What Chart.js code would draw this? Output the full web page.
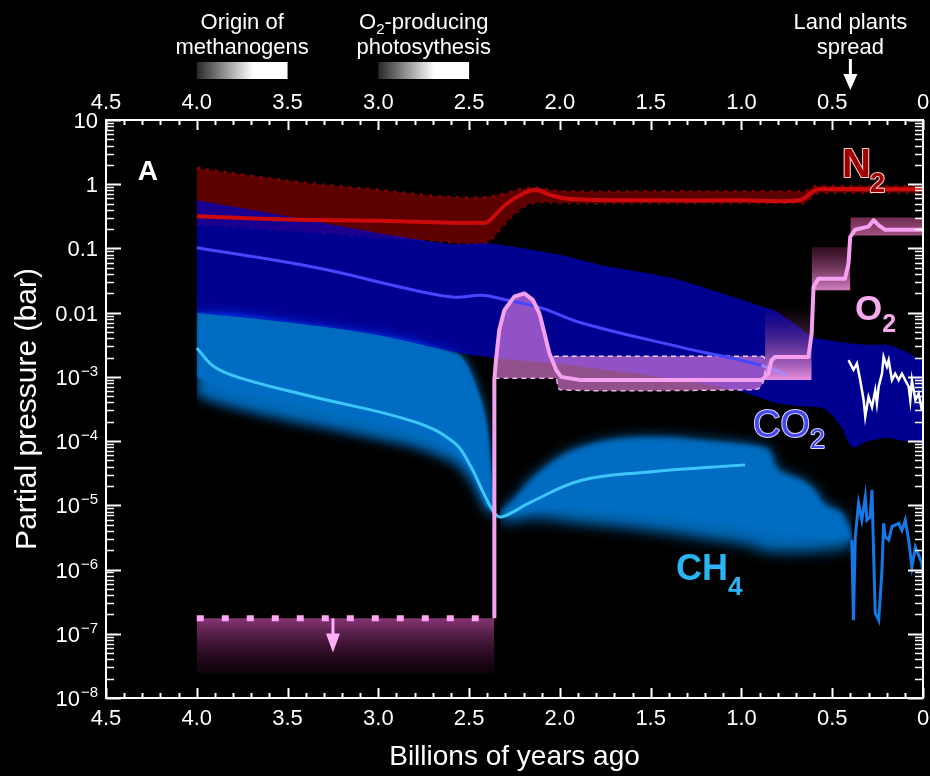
<!DOCTYPE html>
<html><head><meta charset="utf-8">
<script src="https://cdn.jsdelivr.net/npm/chart.js@4/dist/chart.umd.min.js"></script>
<style>html,body{margin:0;padding:0;background:#000;}canvas{display:block;}</style>
</head><body>
<canvas id="c" width="930" height="776"></canvas>
<script>
// ===== DATA (ages in billions of years ago; values are log10 of partial pressure in bar) =====
const xTickValues = [4.5, 4.0, 3.5, 3.0, 2.5, 2.0, 1.5, 1.0, 0.5, 0];
const yTickExponents = [1, 0, -1, -2, -3, -4, -5, -6, -7, -8];
const yTickBase = ["10", "1", "0.1", "0.01", "10", "10", "10", "10", "10", "10"];
const yTickSup  = ["", "", "", "", "\u22123", "\u22124", "\u22125", "\u22126", "\u22127", "\u22128"];

// N2
const n2BandAges  = [4.0, 3.7, 3.4, 3.0, 2.7, 2.5, 2.4, 2.3, 2.2, 2.12, 2.0, 1.5, 1.0, 0.7, 0.65, 0.6, 0.55, 0.5, 0.0];
const n2BandUpper = [0.25, 0.13, 0.02, -0.09, -0.18, -0.21, -0.2, -0.14, -0.07, -0.06, -0.11, -0.11, -0.11, -0.11, -0.11, -0.04, -0.03, -0.03, -0.03];
const n2BandLower = [-0.62, -0.68, -0.74, -0.82, -0.88, -0.92, -0.9, -0.6, -0.35, -0.28, -0.29, -0.29, -0.29, -0.29, -0.29, -0.16, -0.13, -0.13, -0.13];
const n2LineAges  = [4.0, 3.5, 3.0, 2.6, 2.45, 2.4, 2.3, 2.2, 2.13, 2.05, 1.95, 1.5, 1.0, 0.68, 0.62, 0.58, 0.5, 0.0];
const n2Line      = [-0.5, -0.55, -0.57, -0.6, -0.6, -0.59, -0.32, -0.14, -0.09, -0.17, -0.23, -0.25, -0.25, -0.25, -0.14, -0.08, -0.08, -0.08];

// CO2
const co2BandAges  = [4.0, 3.5, 3.0, 2.6, 2.4, 2.2, 2.0, 1.77, 1.4, 1.04, 0.87, 0.82, 0.7, 0.61, 0.54, 0.45, 0.39, 0.3, 0.2, 0.1, 0.0];
const co2BandUpper = [-0.25, -0.5, -0.76, -0.93, -0.92, -1.0, -1.1, -1.26, -1.45, -1.76, -1.92, -1.96, -2.19, -2.38, -2.42, -2.46, -2.48, -2.5, -2.5, -2.6, -2.75];
const co2BandLower = [-2.0, -2.15, -2.35, -2.6, -2.69, -2.75, -2.8, -2.88, -3.02, -3.2, -3.35, -3.4, -3.45, -3.47, -3.5, -3.78, -4.09, -4.0, -3.95, -4.0, -4.05];
const co2LineAges  = [4.0, 3.36, 2.8, 2.58, 2.43, 2.3, 2.1, 1.88, 1.33, 0.89, 0.75];
const co2Line      = [-0.99, -1.29, -1.65, -1.76, -1.73, -1.8, -1.93, -2.16, -2.54, -2.82, -2.97];
const co2ProxyAges = [0.410, 0.383, 0.364, 0.346, 0.327, 0.318, 0.300, 0.281, 0.263, 0.254, 0.244, 0.226, 0.217, 0.199, 0.189, 0.171, 0.153, 0.134, 0.116, 0.098, 0.079, 0.070, 0.061, 0.042, 0.024, 0.006];
const co2Proxy     = [-2.74, -2.89, -2.79, -3.05, -3.36, -3.62, -3.31, -3.47, -3.21, -3.41, -3.15, -2.95, -2.69, -2.84, -2.74, -3.05, -2.95, -3.05, -2.95, -3.05, -3.15, -3.36, -3.05, -3.36, -3.26, -3.52];

// CH4 (upper edge, solid lower edge, faded lower edge)
const ch4PreAges   = [4.0, 3.8, 3.5, 3.2, 3.0, 2.8, 2.6, 2.54, 2.48, 2.41, 2.37, 2.35];
const ch4PreUpper  = [-1.99, -2.0, -2.12, -2.24, -2.32, -2.43, -2.61, -2.69, -3.0, -3.63, -4.72, -5.12];
const ch4PreCore   = [-3.0, -3.2, -3.4, -3.6, -3.72, -3.88, -4.15, -4.3, -4.55, -5.0, -5.1, -5.16];
const ch4PreFade   = [-3.3, -3.48, -3.68, -3.85, -3.97, -4.1, -4.32, -4.45, -4.68, -5.06, -5.15, -5.2];
const ch4PostAges  = [2.33, 2.25, 2.16, 2.05, 1.92, 1.7, 1.4, 1.2, 1.0, 0.88, 0.85, 0.8, 0.67, 0.6, 0.54, 0.45, 0.39];
const ch4PostUpper = [-5.12, -4.9, -4.61, -4.35, -4.14, -3.98, -3.95, -4.0, -4.05, -4.1, -4.13, -4.45, -4.61, -4.76, -5.0, -5.12, -5.5];
const ch4PostCore  = [-5.18, -5.15, -5.08, -5.05, -5.05, -5.08, -5.15, -5.22, -5.3, -5.38, -5.4, -5.42, -5.45, -5.47, -5.5, -5.52, -5.55];
const ch4PostFade  = [-5.25, -5.25, -5.2, -5.22, -5.27, -5.33, -5.43, -5.52, -5.6, -5.7, -5.72, -5.73, -5.73, -5.72, -5.7, -5.68, -5.65];
const ch4LineAges  = [4.0, 3.9, 3.72, 3.36, 2.8, 2.58, 2.49, 2.42, 2.36, 2.32, 2.16, 1.88, 1.51, 0.98];
const ch4Line      = [-2.55, -2.85, -3.05, -3.31, -3.70, -4.03, -4.40, -4.81, -5.12, -5.18, -4.95, -4.61, -4.48, -4.37];
const ch4ProxyAges = [0.392, 0.383, 0.373, 0.355, 0.337, 0.318, 0.309, 0.291, 0.281, 0.272, 0.263, 0.244, 0.226, 0.217, 0.208, 0.189, 0.171, 0.134, 0.116, 0.098, 0.079, 0.061, 0.042, 0.006, 0.0];
const ch4Proxy     = [-5.54, -6.79, -5.49, -4.97, -5.23, -4.87, -5.23, -5.18, -4.76, -5.75, -6.68, -6.79, -6.01, -5.28, -5.49, -5.54, -5.33, -5.28, -5.39, -5.23, -5.54, -5.96, -5.65, -5.90, -6.11];

// O2
const o2LineAges  = [2.361, 2.361, 2.352, 2.334, 2.306, 2.251, 2.196, 2.149, 2.113, 2.085, 2.058, 2.021, 1.993, 1.883, 0.889, 0.852, 0.834, 0.815, 0.631, 0.613, 0.603, 0.576, 0.429, 0.410, 0.401, 0.374, 0.300, 0.272, 0.244, 0.208, 0.0];
const o2Line      = [-6.76, -3.05, -2.74, -2.27, -1.96, -1.75, -1.70, -1.80, -2.01, -2.32, -2.63, -2.89, -3.0, -3.05, -3.05, -2.95, -2.74, -2.69, -2.69, -2.32, -1.60, -1.47, -1.47, -1.23, -0.82, -0.71, -0.66, -0.56, -0.64, -0.71, -0.71];
const o2BandAges  = [2.361, 2.352, 2.334, 2.306, 2.251, 2.196, 2.149, 2.113, 2.085, 2.058, 2.04, 2.02, 2.0, 0.93, 0.9, 0.88, 0.87];
const o2BandUpper = [-3.05, -2.74, -2.27, -1.96, -1.75, -1.70, -1.80, -2.01, -2.32, -2.63, -2.68, -2.68, -2.68, -2.68, -2.68, -2.68, -2.72];
const o2BandLower = [-3.02, -3.02, -3.02, -3.02, -3.02, -3.02, -3.02, -3.02, -3.02, -3.02, -3.02, -3.02, -3.2, -3.2, -3.17, -3.08, -2.9];
const o2PreAges   = [4.0, 2.361];
const o2PreLimit  = [-6.76, -6.76];
const o2PreFloor  = -7.61;
const o2ArrowAge  = 3.25;
const o2ArrowTip  = -7.29;
const o2BoxStart  = [0.87, 0.613, 0.40];
const o2BoxEnd    = [0.613, 0.40, 0.0];
const o2BoxTop    = [-1.9, -0.98, -0.52];
const o2BoxBottom = [-3.05, -1.65, -0.8];

// Top-of-chart events
const eventLabels   = [["Origin of", "methanogens"], ["O\u2082-producing", "photosythesis"], ["Land plants", "spread"]];
const eventBarStart = [4.0, 3.0];
const eventBarEnd   = [3.5, 2.5];
const landPlantsAge = 0.4;

// ===== CHART =====
const FONT = '"Liberation Sans", Arial, Helvetica, sans-serif';
Chart.defaults.font.family = FONT;
Chart.defaults.color = '#fff';

const E = e => Math.pow(10, e);
const pts = (ages, exps) => ages.map((a, i) => ({x: a, y: E(exps[i])}));

function vGrad(topExp, botExp, cTop, cBot) {
  return (c) => {
    const ch = c.chart, y = ch.scales && ch.scales.y;
    if (!ch.chartArea || !y) return cBot;
    const g = ch.ctx.createLinearGradient(0, y.getPixelForValue(E(topExp)), 0, y.getPixelForValue(E(botExp)));
    g.addColorStop(0, cTop); g.addColorStop(1, cBot);
    return g;
  };
}

const ds = [];
function add(o) {
  ds.push(Object.assign({pointRadius: 0, pointHoverRadius: 0, pointHitRadius: 0, borderWidth: 0,
    borderColor: 'rgba(0,0,0,0)', backgroundColor: 'rgba(0,0,0,0)', fill: false, tension: 0.35}, o));
  return ds.length - 1;
}

// --- bottom layer: CH4 ranges (soft glow down to faded edge, then solid part)
const iCh4PreFade = add({label: 'CH4 pre fade', data: pts(ch4PreAges, ch4PreFade)});
const iCh4PreCore = add({label: 'CH4 pre core', data: pts(ch4PreAges, ch4PreCore)});
add({label: 'CH4 pre glow', data: pts(ch4PreAges, ch4PreUpper), fill: {target: iCh4PreFade}, backgroundColor: 'rgba(0,118,205,0.9)', blur: 6});
add({label: 'CH4 range (pre-GOE)', data: pts(ch4PreAges, ch4PreUpper), fill: {target: iCh4PreCore}, backgroundColor: 'rgba(0,110,195,0.92)', blur: 1.2});
const iCh4PostFade = add({label: 'CH4 post fade', data: pts(ch4PostAges, ch4PostFade)});
const iCh4PostCore = add({label: 'CH4 post core', data: pts(ch4PostAges, ch4PostCore)});
add({label: 'CH4 post glow', data: pts(ch4PostAges, ch4PostUpper), fill: {target: iCh4PostFade}, backgroundColor: 'rgba(0,118,205,0.9)', blur: 7});
add({label: 'CH4 range (post-GOE)', data: pts(ch4PostAges, ch4PostUpper), fill: {target: iCh4PostCore}, backgroundColor: 'rgba(0,110,195,0.92)', blur: 2.5});

// --- N2 range
const iN2Low = add({label: 'N2 low', data: pts(n2BandAges, n2BandLower), borderWidth: 3, borderColor: 'rgb(130,0,0)', borderDash: [3, 6]});
add({label: 'N2 range', data: pts(n2BandAges, n2BandUpper), fill: {target: iN2Low}, backgroundColor: 'rgba(100,0,0,0.92)', borderWidth: 3, borderColor: 'rgb(130,0,0)', borderDash: [3, 6]});

// --- CO2 range
const iCo2Low = add({label: 'CO2 low', data: pts(co2BandAges, co2BandLower)});
add({label: 'CO2 range', data: pts(co2BandAges, co2BandUpper), fill: {target: iCo2Low}, backgroundColor: 'rgba(0,0,205,0.7)', tension: 0.25});

// --- O2 boxes
add({label: 'O2 pre-GOE', data: pts(o2PreAges, o2PreLimit), tension: 0, fill: {value: E(o2PreFloor)},
  backgroundColor: vGrad(o2PreLimit[0], o2PreFloor, 'rgba(140,55,120,0.95)', 'rgba(50,5,35,0.3)'),
  borderWidth: 6, borderColor: 'rgb(255,165,245)', borderDash: [7, 18], borderCapStyle: 'butt'});
const boxTopColors = ['rgba(120,40,95,0)', 'rgba(110,30,70,0.45)', 'rgba(150,60,110,0.75)'];
const boxBotColors = ['rgba(245,150,225,0.95)', 'rgba(235,140,215,0.9)', 'rgba(190,95,150,0.85)'];
o2BoxStart.forEach((s, i) => {
  add({label: 'O2 box ' + (i + 1), data: pts([s, o2BoxEnd[i]], [o2BoxTop[i], o2BoxTop[i]]), tension: 0,
    fill: {value: E(o2BoxBottom[i])}, backgroundColor: vGrad(o2BoxTop[i], o2BoxBottom[i], boxTopColors[i], boxBotColors[i])});
});

// --- O2 range (post-GOE)
const iO2Low = add({label: 'O2 low', data: pts(o2BandAges, o2BandLower), tension: 0.2, borderWidth: 1.5, borderColor: 'rgba(255,225,250,0.9)', borderDash: [5, 4]});
add({label: 'O2 range', data: pts(o2BandAges, o2BandUpper), tension: 0.2, fill: {target: iO2Low}, backgroundColor: 'rgba(235,130,228,0.62)', borderWidth: 1.5, borderColor: 'rgba(255,225,250,0.9)', borderDash: [5, 4]});

// --- model lines
add({label: 'N2', data: pts(n2LineAges, n2Line), borderWidth: 4, borderColor: 'rgb(205,10,10)', tension: 0.4});
add({label: 'CH4', data: pts(ch4LineAges, ch4Line), borderWidth: 3, borderColor: 'rgb(60,200,255)', tension: 0.4});
add({label: 'CO2', data: pts(co2LineAges, co2Line), borderWidth: 3, borderColor: 'rgb(70,70,255)', tension: 0.4,
  segment: {borderColor: c => c.p0.parsed.x <= 0.89 ? 'rgba(160,140,255,0.85)' : undefined}});
add({label: 'CO2 proxy', data: pts(co2ProxyAges, co2Proxy), borderWidth: 2.5, borderColor: '#fff', tension: 0});
add({label: 'CH4 proxy', data: pts(ch4ProxyAges, ch4Proxy), borderWidth: 3, borderColor: 'rgb(20,120,230)', tension: 0});
add({label: 'O2', data: pts(o2LineAges, o2Line), borderWidth: 4, borderColor: 'rgb(245,160,240)', tension: 0, borderJoinStyle: 'round'});

ds.forEach((d, i) => { d.order = ds.length - i; });

// ===== PLUGINS =====
function setBlur(chart, idx) {
  const d = idx >= 0 ? chart.data.datasets[idx] : null;
  chart.ctx.filter = d && d.blur ? 'blur(' + d.blur + 'px)' : 'none';
}
const blurPlugin = {
  id: 'blurFill',
  beforeDatasetsDraw(chart) {
    const seq = chart.getSortedVisibleDatasetMetas().map(m => m.index).reverse();
    chart.$blurSeq = seq;
    setBlur(chart, seq.length ? seq[0] : -1);
  },
  beforeDatasetDraw(chart) { chart.ctx.filter = 'none'; },
  afterDatasetDraw(chart, args) {
    const seq = chart.$blurSeq || [];
    const p = seq.indexOf(args.index);
    setBlur(chart, p >= 0 && p + 1 < seq.length ? seq[p + 1] : -1);
  },
  afterDatasetsDraw(chart) { chart.ctx.filter = 'none'; }
};

const bgPlugin = {
  id: 'bg',
  beforeDraw(chart) { const c = chart.ctx; c.save(); c.fillStyle = '#000'; c.fillRect(0, 0, chart.width, chart.height); c.restore(); }
};

function drawParts(ctx, x, y, parts, fill, stroke, lw) {
  let cx = x;
  parts.forEach(p => {
    ctx.font = p.f;
    if (stroke) { ctx.lineWidth = lw; ctx.strokeStyle = stroke; ctx.lineJoin = 'round'; ctx.strokeText(p.t, cx, y + (p.dy || 0)); }
    ctx.fillStyle = fill; ctx.fillText(p.t, cx, y + (p.dy || 0));
    cx += ctx.measureText(p.t).width + (p.gap || 0);
  });
}
function partsWidth(ctx, parts) { let w = 0; parts.forEach(p => { ctx.font = p.f; w += ctx.measureText(p.t).width + (p.gap || 0); }); return w; }

const decorPlugin = {
  id: 'decor',
  afterDraw(chart) {
    const {ctx, chartArea: a} = chart;
    const x = chart.scales.x, y = chart.scales.y;
    ctx.save();
    ctx.strokeStyle = '#fff'; ctx.fillStyle = '#fff';
    const seg = (x1, y1, x2, y2) => { ctx.beginPath(); ctx.moveTo(x1, y1); ctx.lineTo(x2, y2); ctx.stroke(); };
    // x ticks (inward, top and bottom)
    for (let k = 0; k <= 45; k++) {
      const px = Math.round(x.getPixelForValue(k / 10)) + 0.5;
      const L = k % 5 === 0 ? 10 : 5;
      ctx.lineWidth = 2;
      seg(px, a.bottom, px, a.bottom - L);
      seg(px, a.top, px, a.top + L);
    }
    // y ticks (inward, left and right)
    for (let e = -8; e <= 1; e++) {
      for (let m = 1; m <= 9; m++) {
        if (e === 1 && m > 1) break;
        const py = Math.round(y.getPixelForValue(m * Math.pow(10, e))) + 0.5;
        const L = m === 1 ? 15 : 8;
        ctx.lineWidth = m === 1 ? 2 : 1.5;
        seg(a.left, py, a.left + L, py);
        seg(a.right, py, a.right - L, py);
      }
    }
    // y labels with superscripts
    ctx.textAlign = 'left'; ctx.textBaseline = 'alphabetic'; ctx.fillStyle = '#fff';
    yTickExponents.forEach((e, i) => {
      const py = y.getPixelForValue(E(e));
      const right = a.left - 8;
      ctx.font = '15px ' + FONT;
      const ws = yTickSup[i] ? ctx.measureText(yTickSup[i]).width : 0;
      ctx.font = '22px ' + FONT;
      const wb = ctx.measureText(yTickBase[i]).width;
      const x0 = right - ws - wb - (ws ? 1 : 0);
      ctx.fillText(yTickBase[i], x0, py + 8);
      if (ws) { ctx.font = '15px ' + FONT; ctx.fillText(yTickSup[i], x0 + wb + 1, py - 1); }
    });

    // top event bars
    eventBarStart.forEach((s, i) => {
      const x1 = x.getPixelForValue(s), x2 = x.getPixelForValue(eventBarEnd[i]);
      const g = ctx.createLinearGradient(x1, 0, x2, 0);
      g.addColorStop(0, 'rgba(40,40,40,1)'); g.addColorStop(0.62, '#fff'); g.addColorStop(1, '#fff');
      ctx.fillStyle = g; ctx.fillRect(x1, 62, x2 - x1, 17);
    });
    // event labels
    ctx.fillStyle = '#fff';
    const centers = [x.getPixelForValue((eventBarStart[0] + eventBarEnd[0]) / 2),
                     x.getPixelForValue((eventBarStart[1] + eventBarEnd[1]) / 2),
                     x.getPixelForValue(landPlantsAge)];
    eventLabels.forEach((lines, i) => {
      lines.forEach((t, j) => {
        let parts;
        if (t.indexOf('\u2082') >= 0) {
          const bits = t.split('\u2082');
          parts = [{t: bits[0], f: '22px ' + FONT}, {t: '2', f: '15px ' + FONT, dy: 5}, {t: bits[1], f: '22px ' + FONT}];
        } else parts = [{t: t, f: '22px ' + FONT}];
        const w = partsWidth(ctx, parts);
        drawParts(ctx, centers[i] - w / 2, j === 0 ? 29 : 54, parts, '#fff');
      });
    });
    // land plants arrow
    const ax = centers[2];
    ctx.lineWidth = 3; ctx.strokeStyle = '#fff';
    seg(ax, 59, ax, 76);
    ctx.beginPath(); ctx.moveTo(ax - 7, 74); ctx.lineTo(ax + 7, 74); ctx.lineTo(ax, 90); ctx.closePath(); ctx.fill();

    // O2 upper-limit arrow
    const arX = x.getPixelForValue(o2ArrowAge), arY0 = y.getPixelForValue(E(o2PreLimit[0])), arY1 = y.getPixelForValue(E(o2ArrowTip));
    ctx.strokeStyle = 'rgb(255,175,245)'; ctx.fillStyle = 'rgb(255,175,245)'; ctx.lineWidth = 3;
    seg(arX, arY0, arX, arY1 - 16);
    ctx.beginPath(); ctx.moveTo(arX - 7, arY1 - 19); ctx.lineTo(arX + 7, arY1 - 19); ctx.lineTo(arX, arY1); ctx.closePath(); ctx.fill();

    // in-plot labels
    const P = (age, ex) => [x.getPixelForValue(age), y.getPixelForValue(E(ex))];
    ctx.textAlign = 'center'; ctx.textBaseline = 'middle'; ctx.fillStyle = '#fff';
    ctx.font = 'bold 28px ' + FONT;
    let p = P(4.27, 0.19); ctx.fillText('A', p[0], p[1]);
    ctx.textAlign = 'left'; ctx.textBaseline = 'alphabetic';
    p = P(0.446, 0.112);
    drawParts(ctx, p[0], p[1], [{t: 'N', f: 'bold 40px ' + FONT, gap: -1}, {t: '2', f: 'bold 27px ' + FONT, dy: 15}], 'rgb(160,0,0)', 'rgb(255,205,205)', 2);
    p = P(0.375, -2.114);
    drawParts(ctx, p[0], p[1], [{t: 'O', f: 'bold 35px ' + FONT}, {t: '2', f: 'bold 25px ' + FONT, dy: 12}], 'rgb(248,170,240)');
    p = P(0.936, -3.936);
    drawParts(ctx, p[0], p[1], [{t: 'CO', f: '38px ' + FONT}, {t: '2', f: '27px ' + FONT, dy: 11}], 'rgb(70,70,240)', 'rgb(215,215,255)', 2);
    p = P(1.361, -6.163);
    drawParts(ctx, p[0], p[1], [{t: 'CH', f: 'bold 36px ' + FONT}, {t: '4', f: 'bold 26px ' + FONT, dy: 15}], 'rgb(40,180,245)');
    ctx.restore();
  }
};

const tickFmt = v => (Math.abs(v) < 1e-9 ? '0' : v.toFixed(1));

new Chart(document.getElementById('c'), {
  type: 'line',
  data: {datasets: ds},
  options: {
    responsive: false, animation: false, devicePixelRatio: 1,
    layout: {padding: 0},
    elements: {point: {radius: 0, hitRadius: 0, hoverRadius: 0}},
    plugins: {legend: {display: false}, tooltip: {enabled: false}, filler: {propagate: false}},
    scales: {
      x: {
        type: 'linear', position: 'bottom', reverse: true, min: 0, max: 4.5,
        grid: {display: false}, border: {display: true, color: '#fff', width: 2, z: 1},
        ticks: {stepSize: 0.5, autoSkip: false, maxRotation: 0, padding: 0, font: {size: 22}, color: '#fff', callback: tickFmt},
        title: {display: true, text: 'Billions of years ago', color: '#fff', font: {size: 28}, padding: {top: 0, bottom: 2}},
        afterFit: s => { s.height = 78; }
      },
      x2: {
        type: 'linear', position: 'top', reverse: true, min: 0, max: 4.5,
        grid: {display: false}, border: {display: true, color: '#fff', width: 2, z: 1},
        ticks: {stepSize: 0.5, autoSkip: false, maxRotation: 0, padding: -4, font: {size: 22}, color: '#fff', callback: tickFmt},
        afterFit: s => { s.height = 120; }
      },
      y: {
        type: 'logarithmic', position: 'left', min: 1e-8, max: 10,
        grid: {display: false}, border: {display: true, color: '#fff', width: 2, z: 1},
        ticks: {display: false},
        title: {display: true, text: 'Partial pressure (bar)', color: '#fff', font: {size: 30}, padding: {top: 10, bottom: 0}},
        afterFit: s => { s.width = 106; }
      },
      y2: {
        type: 'logarithmic', position: 'right', min: 1e-8, max: 10,
        grid: {display: false}, border: {display: true, color: '#fff', width: 2, z: 1},
        ticks: {display: false},
        afterFit: s => { s.width = 7; }
      }
    }
  },
  plugins: [bgPlugin, blurPlugin, decorPlugin]
});
</script>
</body></html>
